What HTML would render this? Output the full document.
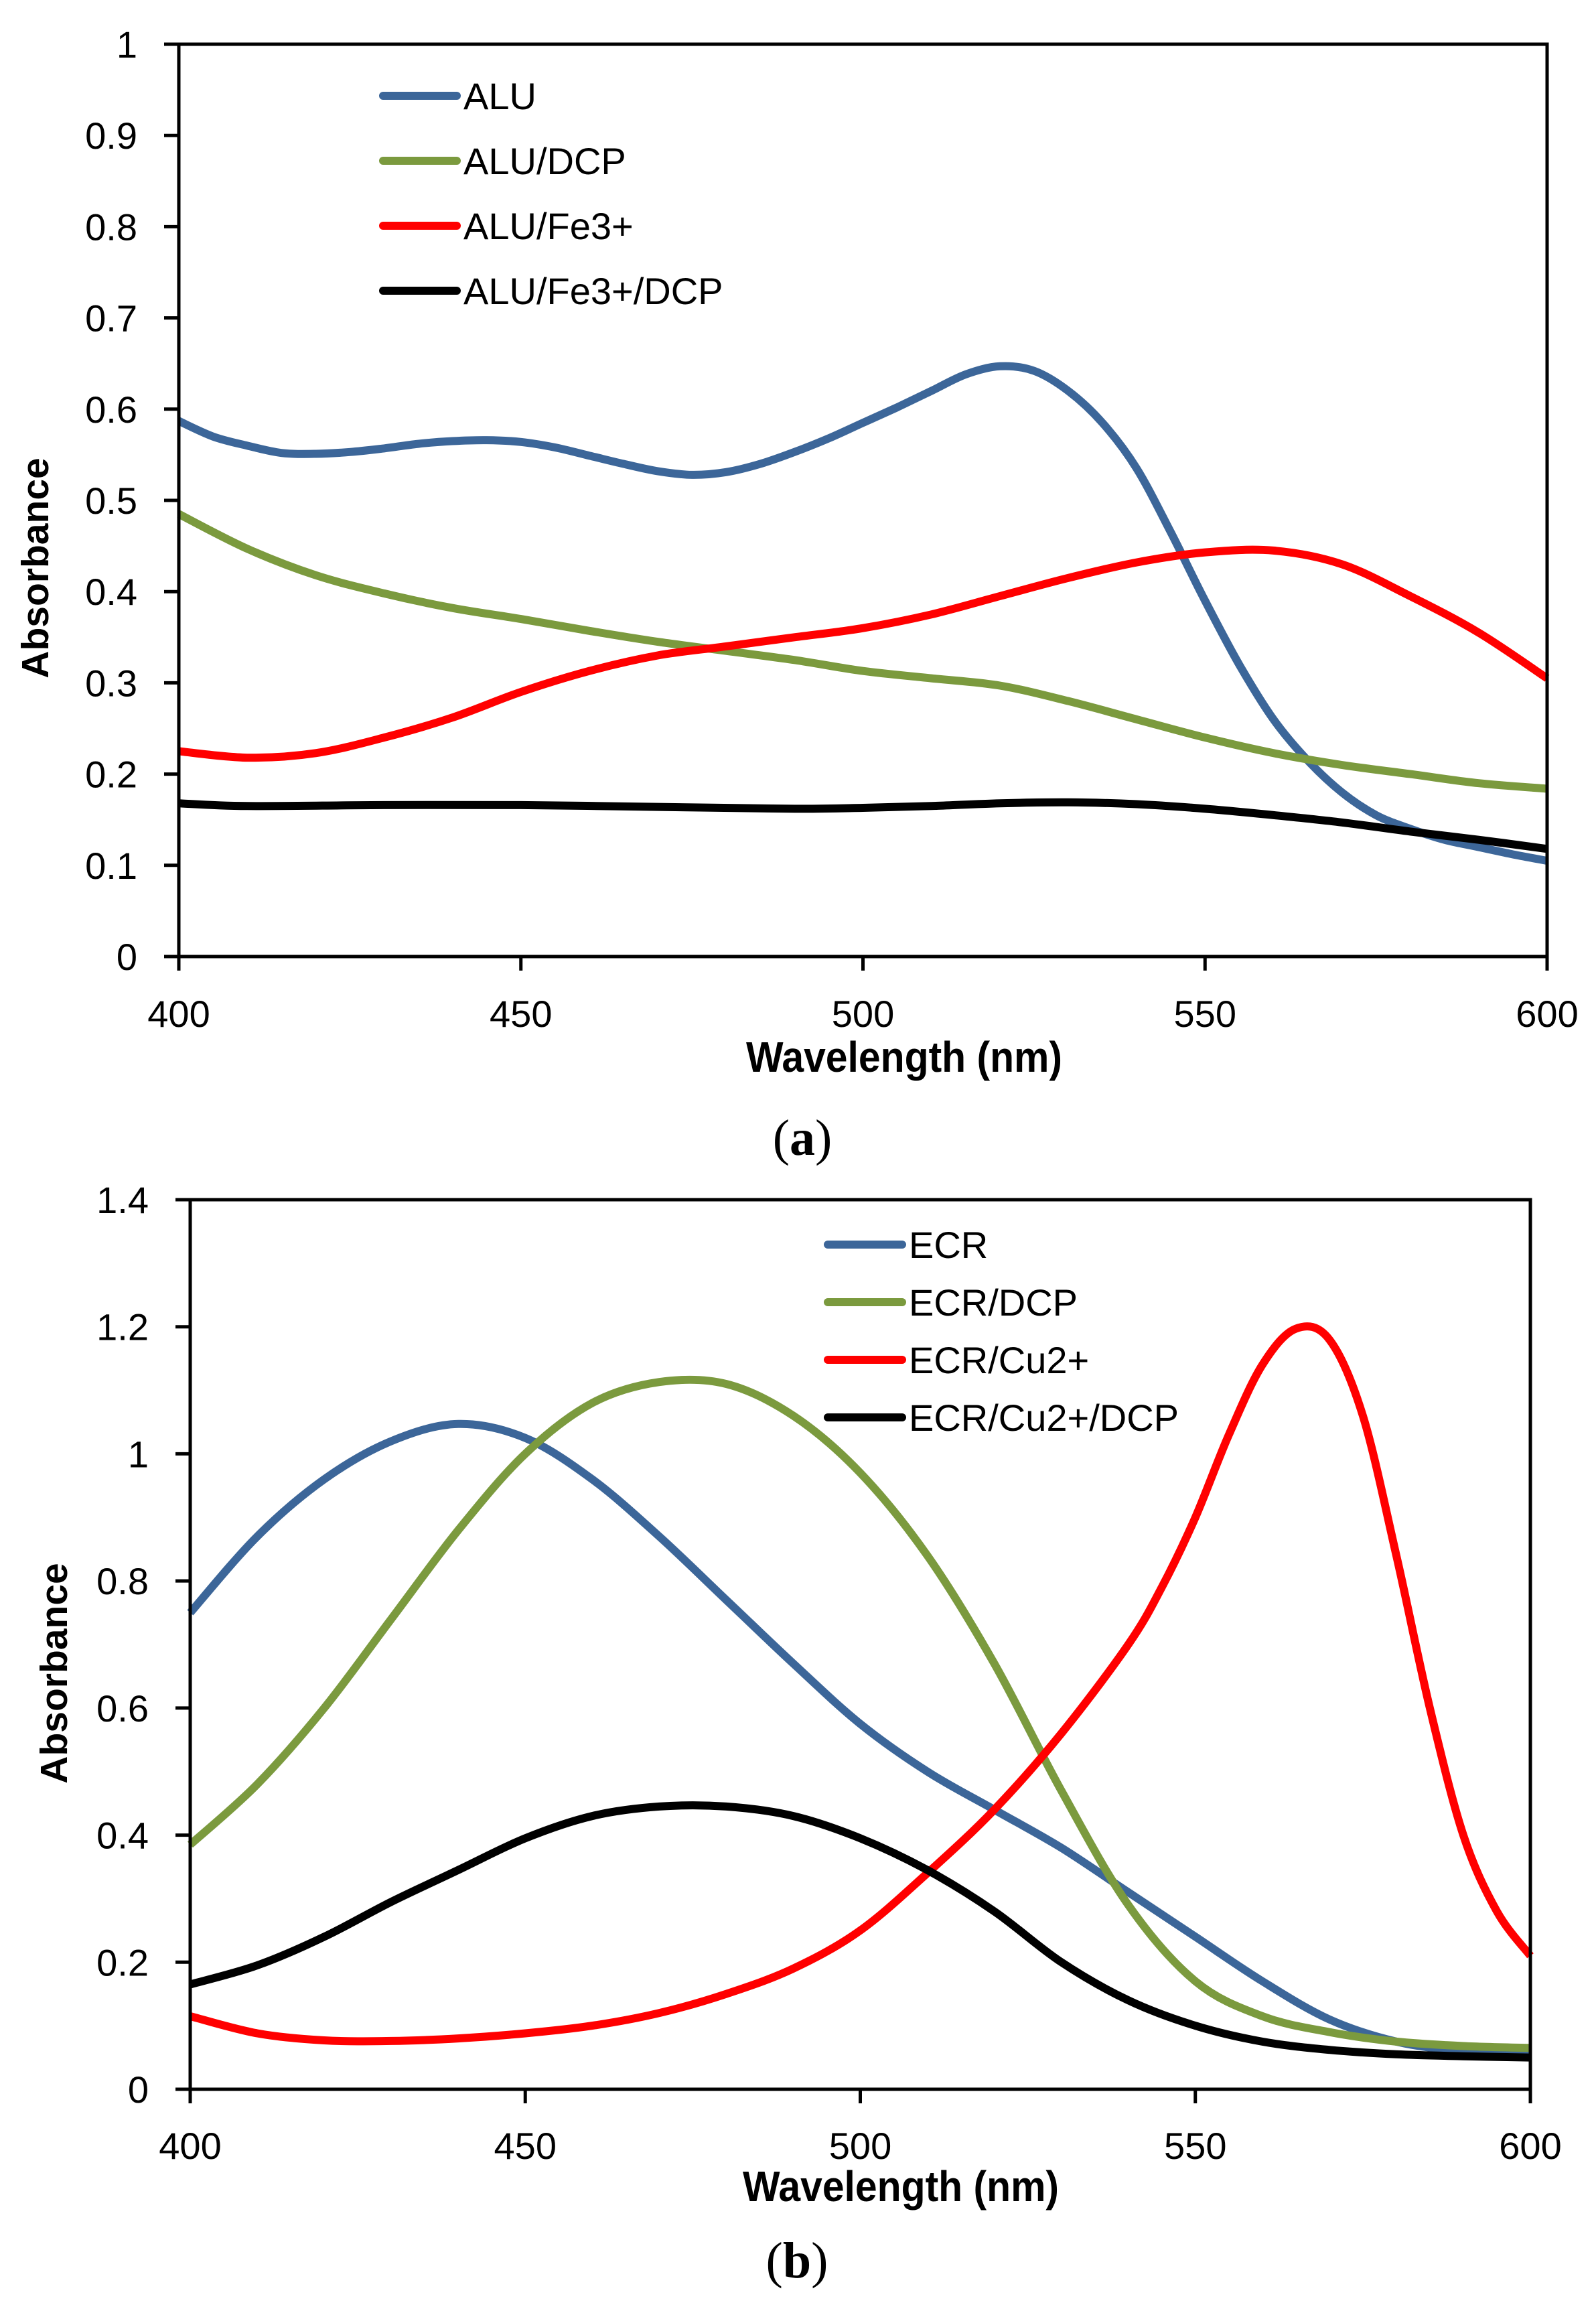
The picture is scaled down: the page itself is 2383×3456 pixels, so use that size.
<!DOCTYPE html>
<html><head><meta charset="utf-8"><style>
html,body{margin:0;padding:0;background:#fff;}
svg{display:block;}
text{font-family:"Liberation Sans",sans-serif;fill:#000;}
</style></head><body>
<svg id="s" width="2383" height="3456" viewBox="0 0 2383 3456" xmlns="http://www.w3.org/2000/svg">
<g id="a"></g><g id="b"></g>
<text x="1198" y="1724" font-size="76" text-anchor="middle" style="font-family:'Liberation Serif',serif">(<tspan font-weight="bold">a</tspan>)</text>
<text x="1190" y="3400" font-size="76" text-anchor="middle" style="font-family:'Liberation Serif',serif">(<tspan font-weight="bold">b</tspan>)</text>
</svg>
<script>
const NS="http://www.w3.org/2000/svg";
function el(p,t,a,txt){const e=document.createElementNS(NS,t);for(const k in a)e.setAttribute(k,a[k]);if(txt!==undefined)e.textContent=txt;p.appendChild(e);return e;}
function path(pts){let d="M"+pts[0][0].toFixed(1)+","+pts[0][1].toFixed(1);
 for(let i=0;i<pts.length-1;i++){const p0=pts[Math.max(0,i-1)],p1=pts[i],p2=pts[i+1],p3=pts[Math.min(pts.length-1,i+2)];
 const c1=[p1[0]+(p2[0]-p0[0])/6,p1[1]+(p2[1]-p0[1])/6],c2=[p2[0]-(p3[0]-p1[0])/6,p2[1]-(p3[1]-p1[1])/6];
 d+=" C"+c1.map(v=>v.toFixed(1)).join(",")+" "+c2.map(v=>v.toFixed(1)).join(",")+" "+p2[0].toFixed(1)+","+p2[1].toFixed(1);}return d;}
function chart(g,cfg){
 const X=v=>cfg.x0+(v-400)/200*(cfg.x1-cfg.x0), Y=v=>cfg.y0-(v/cfg.ymax)*(cfg.y0-cfg.y1);
 cfg.series.forEach(s=>{const pts=[];for(let i=0;i<s.d.length;i+=2)pts.push([X(s.d[i]),Y(s.d[i+1])]);
  el(g,"path",{d:path(pts),fill:"none",stroke:s.c,"stroke-width":12,"stroke-linejoin":"round"});});
 el(g,"rect",{x:cfg.x0,y:cfg.y1,width:cfg.x1-cfg.x0,height:cfg.y0-cfg.y1,fill:"none",stroke:"#000","stroke-width":5});
 for(let v=0;v<=cfg.ymax+1e-9;v+=cfg.ystep){const y=Y(v);
  el(g,"line",{x1:cfg.x0-22,x2:cfg.x0,y1:y,y2:y,stroke:"#000","stroke-width":5});
  el(g,"text",{x:cfg.lx,y:y+20,"font-size":56,"text-anchor":"end"},(+v.toFixed(1)).toString());}
 for(let v=400;v<=600;v+=50){const x=X(v);
  el(g,"line",{x1:x,x2:x,y1:cfg.y0,y2:cfg.y0+21,stroke:"#000","stroke-width":5});
  el(g,"text",{x:x,y:cfg.ty,"font-size":56,"text-anchor":"middle"},v);}
 el(g,"text",{x:cfg.wx,y:cfg.wy,"font-size":64,"font-weight":"bold","text-anchor":"middle",transform:`translate(${cfg.wx},0) scale(0.92,1) translate(${-cfg.wx},0)`},"Wavelength (nm)");
 el(g,"text",{x:0,y:0,"font-size":57,"font-weight":"bold","text-anchor":"middle",transform:`translate(${cfg.ax},${cfg.ay}) rotate(-90)`},"Absorbance");
 cfg.series.forEach((s,i)=>{const y=cfg.leg[2]+i*cfg.leg[3];
  el(g,"line",{x1:cfg.leg[0],x2:cfg.leg[1],y1:y,y2:y,stroke:s.c,"stroke-width":12,"stroke-linecap":"round"});
  el(g,"text",{x:cfg.leg[1]+10,y:y+20,"font-size":56},s.n);});
}
const BL="#3c6699",GR="#7b9a3e",RD="#ff0000",BK="#000000";
chart(document.getElementById("a"),{x0:267,x1:2310,y0:1428,y1:66,ymax:1,ystep:0.1,lx:205,ty:1533,wx:1350,wy:1600,ax:72,ay:848,
 leg:[572,682,143,97],
 series:[
 {n:"ALU",c:BL,d:[400,.587,405,.57,410,.56,415,.552,420,.551,425,.553,430,.557,435,.562,440,.565,445,.566,450,.564,455,.558,460,.549,465,.54,470,.532,475,.528,480,.531,485,.54,490,.553,495,.568,500,.585,505,.602,510,.62,515,.638,520,.647,525,.642,530,.62,535,.585,540,.535,545,.465,550,.39,555,.32,560,.26,565,.215,570,.18,575,.155,580,.14,585,.128,590,.12,595,.112,600,.105]},
 {n:"ALU/DCP",c:GR,d:[400,.485,410,.447,420,.418,430,.398,440,.382,450,.37,460,.357,470,.345,480,.335,490,.325,500,.313,510,.305,520,.297,530,.28,540,.26,550,.24,560,.223,570,.21,580,.2,590,.19,600,.184]},
 {n:"ALU/Fe3+",c:RD,d:[400,.225,410,.218,420,.223,430,.24,440,.262,450,.29,460,.313,470,.33,480,.34,490,.35,500,.36,510,.375,520,.395,530,.415,540,.432,550,.443,560,.445,570,.43,580,.395,590,.355,600,.305]},
 {n:"ALU/Fe3+/DCP",c:BK,d:[400,.168,410,.165,430,.166,450,.166,470,.164,490,.162,500,.163,510,.165,520,.168,530,.169,540,.167,550,.162,560,.155,570,.147,580,.137,590,.128,600,.118]}]});
chart(document.getElementById("b"),{x0:284,x1:2285,y0:3119,y1:1791,ymax:1.4,ystep:0.2,lx:222,ty:3223,wx:1345,wy:3286,ax:100,ay:2498,
 leg:[1236,1347,1858,86],
 series:[
 {n:"ECR",c:BL,d:[400,.75,410,.87,420,.96,430,1.02,440,1.047,450,1.025,460,.96,470,.87,480,.77,490,.67,500,.575,510,.5,520,.44,530,.38,540,.31,550,.24,560,.17,570,.11,580,.075,590,.06,600,.055]},
 {n:"ECR/DCP",c:GR,d:[400,.385,410,.48,420,.6,430,.74,440,.88,450,1.0,460,1.08,470,1.113,480,1.11,490,1.06,500,.97,510,.84,520,.67,530,.47,540,.29,550,.17,560,.115,570,.09,580,.075,590,.068,600,.065]},
 {n:"ECR/Cu2+",c:RD,d:[400,.115,410,.088,420,.077,430,.076,440,.08,450,.088,460,.1,470,.12,480,.15,490,.19,500,.25,510,.34,520,.44,530,.56,540,.7,545,.79,550,.9,555,1.03,560,1.14,565,1.197,570,1.18,575,1.06,580,.84,585,.6,590,.4,595,.28,600,.21]},
 {n:"ECR/Cu2+/DCP",c:BK,d:[400,.165,410,.195,420,.24,430,.295,440,.345,450,.395,460,.43,470,.445,480,.445,490,.43,500,.395,510,.345,520,.28,530,.2,540,.14,550,.1,560,.075,570,.062,580,.055,590,.052,600,.05]}]});
</script>
</body></html>
